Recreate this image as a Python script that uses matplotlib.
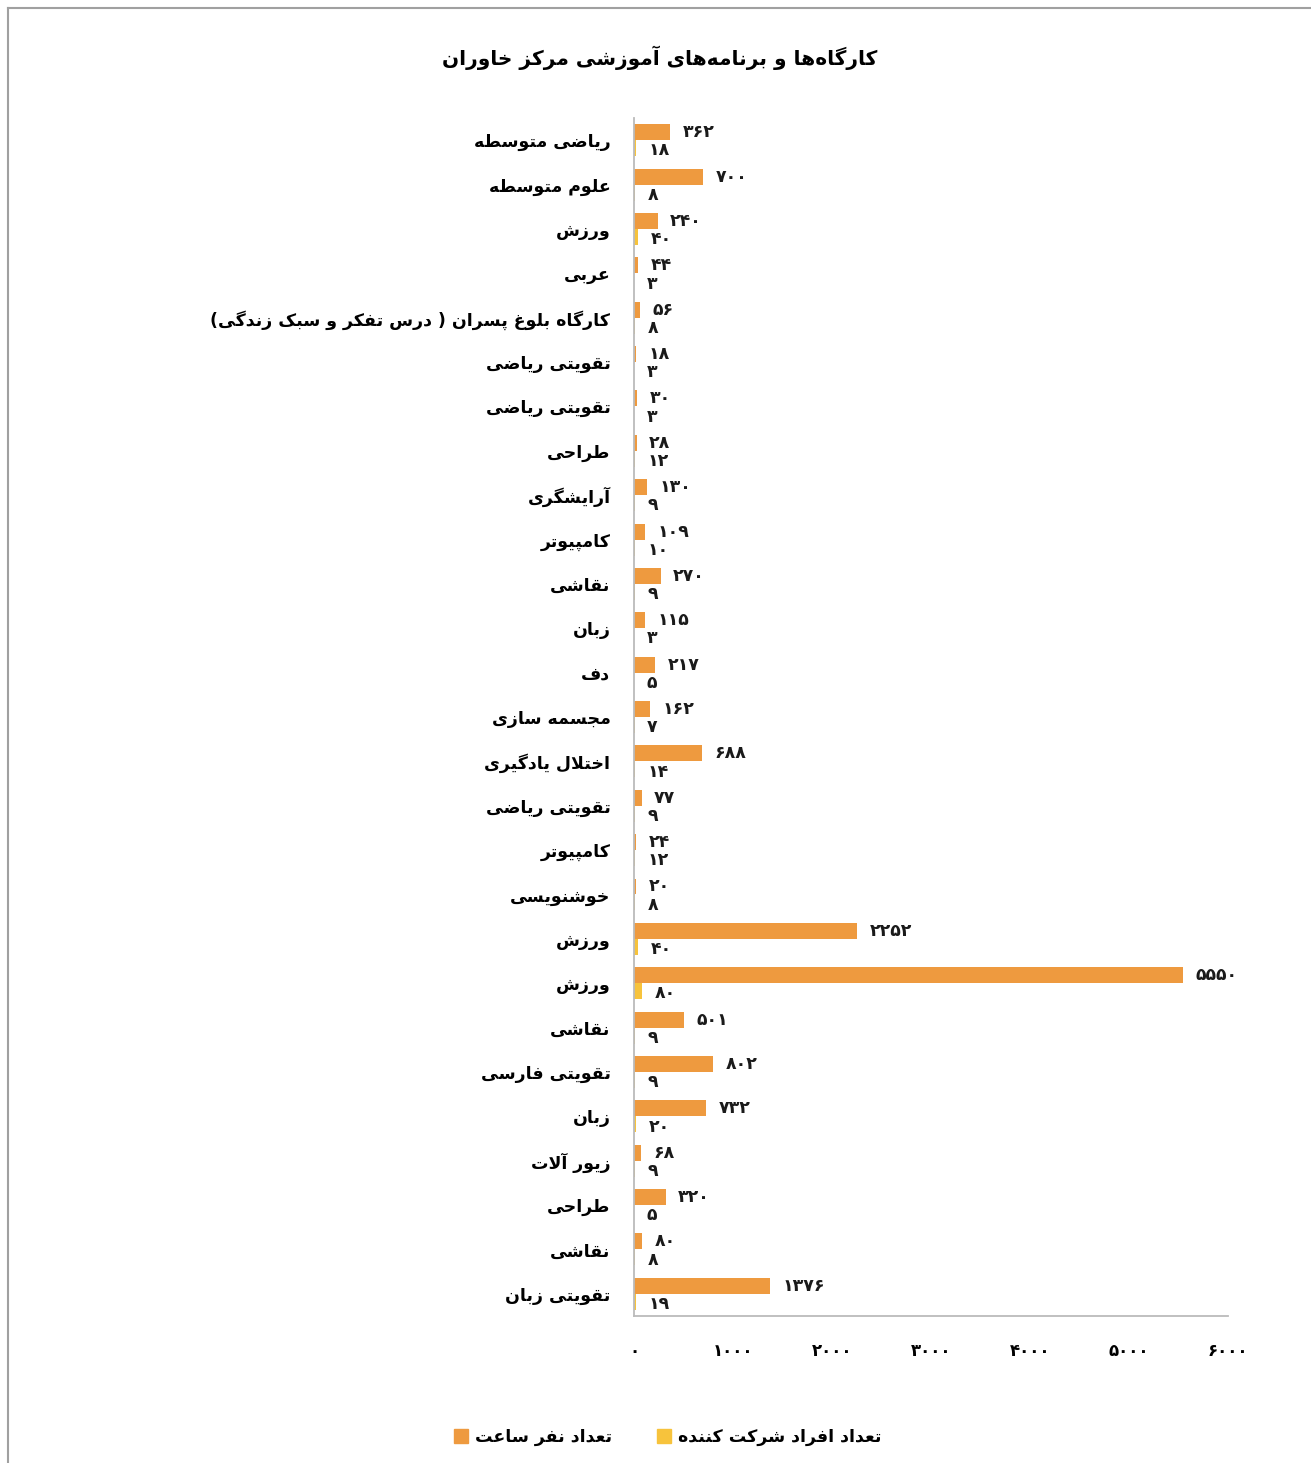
import matplotlib
matplotlib.use("Agg")
import matplotlib.pyplot as plt
import numpy as np
from matplotlib.patches import Patch
from matplotlib.lines import Line2D

# ---------------- data ----------------
categories = [
    "ریاضی متوسطه", "علوم متوسطه", "ورزش", "عربی",
    "کارگاه بلوغ پسران ( درس تفکر و سبک زندگی)",
    "تقویتی ریاضی", "تقویتی ریاضی", "طراحی", "آرایشگری", "کامپیوتر",
    "نقاشی", "زبان", "دف", "مجسمه سازی", "اختلال یادگیری",
    "تقویتی ریاضی", "کامپیوتر", "خوشنویسی", "ورزش", "ورزش",
    "نقاشی", "تقویتی فارسی", "زبان", "زیور آلات", "طراحی",
    "نقاشی", "تقویتی زبان",
]
hours = [362, 700, 240, 44, 56, 18, 30, 28, 130, 109, 270, 115, 217, 162, 688,
         77, 24, 20, 2252, 5550, 501, 802, 732, 68, 320, 80, 1376]
participants = [18, 8, 40, 3, 8, 3, 3, 12, 9, 10, 9, 3, 5, 7, 14,
                9, 12, 8, 40, 80, 9, 9, 20, 9, 5, 8, 19]
x_ticks = [0, 1000, 2000, 3000, 4000, 5000, 6000]
title_text = "کارگاه\u200cها و برنامه\u200cهای آموزشی مرکز خاوران"
series_names = ["تعداد نفر ساعت", "تعداد افراد شرکت کننده"]

ORANGE = "#EE9A3F"
YELLOW = "#F7C33C"

# ---------------- Persian shaping (presentation forms) ----------------
FORMS = {
    "ا": ("\uFE8D", "\uFE8E", None, None),
    "آ": ("\uFE81", "\uFE82", None, None),
    "ب": ("\uFE8F", "\uFE90", "\uFE91", "\uFE92"),
    "پ": ("\uFB56", "\uFB57", "\uFB58", "\uFB59"),
    "ت": ("\uFE95", "\uFE96", "\uFE97", "\uFE98"),
    "ث": ("\uFE99", "\uFE9A", "\uFE9B", "\uFE9C"),
    "ج": ("\uFE9D", "\uFE9E", "\uFE9F", "\uFEA0"),
    "چ": ("\uFB7A", "\uFB7B", "\uFB7C", "\uFB7D"),
    "ح": ("\uFEA1", "\uFEA2", "\uFEA3", "\uFEA4"),
    "خ": ("\uFEA5", "\uFEA6", "\uFEA7", "\uFEA8"),
    "د": ("\uFEA9", "\uFEAA", None, None),
    "ذ": ("\uFEAB", "\uFEAC", None, None),
    "ر": ("\uFEAD", "\uFEAE", None, None),
    "ز": ("\uFEAF", "\uFEB0", None, None),
    "ژ": ("\uFB8A", "\uFB8B", None, None),
    "س": ("\uFEB1", "\uFEB2", "\uFEB3", "\uFEB4"),
    "ش": ("\uFEB5", "\uFEB6", "\uFEB7", "\uFEB8"),
    "ص": ("\uFEB9", "\uFEBA", "\uFEBB", "\uFEBC"),
    "ض": ("\uFEBD", "\uFEBE", "\uFEBF", "\uFEC0"),
    "ط": ("\uFEC1", "\uFEC2", "\uFEC3", "\uFEC4"),
    "ظ": ("\uFEC5", "\uFEC6", "\uFEC7", "\uFEC8"),
    "ع": ("\uFEC9", "\uFECA", "\uFECB", "\uFECC"),
    "غ": ("\uFECD", "\uFECE", "\uFECF", "\uFED0"),
    "ف": ("\uFED1", "\uFED2", "\uFED3", "\uFED4"),
    "ق": ("\uFED5", "\uFED6", "\uFED7", "\uFED8"),
    "ک": ("\uFB8E", "\uFB8F", "\uFB90", "\uFB91"),
    "گ": ("\uFB92", "\uFB93", "\uFB94", "\uFB95"),
    "ل": ("\uFEDD", "\uFEDE", "\uFEDF", "\uFEE0"),
    "م": ("\uFEE1", "\uFEE2", "\uFEE3", "\uFEE4"),
    "ن": ("\uFEE5", "\uFEE6", "\uFEE7", "\uFEE8"),
    "و": ("\uFEED", "\uFEEE", None, None),
    "ه": ("\uFEE9", "\uFEEA", "\uFEEB", "\uFEEC"),
    "ی": ("\uFBFC", "\uFBFD", "\uFBFE", "\uFBFF"),
}
LAMALEF = {"ا": ("\uFEFB", "\uFEFC"), "آ": ("\uFEF5", "\uFEF6")}


def _shape(s):
    chars = list(s)
    n = len(chars)
    res = []
    i = 0
    while i < n:
        c = chars[i]
        if c not in FORMS:
            if c != "\u200c":
                res.append(c)
            i += 1
            continue
        prev = chars[i - 1] if i > 0 else None
        conn_prev = prev in FORMS and FORMS[prev][2] is not None
        if c == "ل" and i + 1 < n and chars[i + 1] in LAMALEF:
            lig = LAMALEF[chars[i + 1]]
            res.append(lig[1] if conn_prev else lig[0])
            i += 2
            continue
        nxt = chars[i + 1] if i + 1 < n else None
        f = FORMS[c]
        conn_next = f[2] is not None and nxt in FORMS
        if conn_prev and conn_next:
            g = f[3]
        elif conn_prev:
            g = f[1]
        elif conn_next:
            g = f[2]
        else:
            g = f[0]
        res.append(g)
        i += 1
    return res


def rtl(s):
    mirror = {"(": ")", ")": "("}
    return "".join(mirror.get(c, c) for c in reversed(_shape(s)))


FA_DIGITS = str.maketrans("0123456789", "۰۱۲۳۴۵۶۷۸۹")


def fa(v):
    return str(v).translate(FA_DIGITS)


# ---------------- figure ----------------
plt.rcParams["font.family"] = ["DejaVu Sans"]
fig = plt.figure(figsize=(13.11, 14.63), dpi=100)
ax = fig.add_axes([0.4836, 0.1005, 0.4531, 0.8188])

y = np.arange(len(categories))
bh = 0.36
ax.barh(y - bh / 2, hours, height=bh, color=ORANGE)
ax.barh(y + bh / 2, participants, height=bh, color=YELLOW)

for yi, hv, pv in zip(y, hours, participants):
    ax.annotate(fa(hv), (hv, yi - bh / 2), xytext=(9, 0), textcoords="offset points",
                ha="left", va="center", fontsize=12.5, fontweight="bold", color="#1a1a1a")
    ax.annotate(fa(pv), (pv, yi + bh / 2 + 0.05), xytext=(9, 0), textcoords="offset points",
                ha="left", va="center", fontsize=12.5, fontweight="bold", color="#1a1a1a")

ax.set_xlim(0, 6000)
ax.set_ylim(len(categories) - 0.5, -0.5)
ax.set_yticks(y)
ax.set_yticklabels([rtl(c) for c in categories], fontsize=12.5, fontweight="bold")
ax.set_xticks(x_ticks)
ax.set_xticklabels([fa(t) for t in x_ticks], fontsize=12, fontweight="bold")
ax.tick_params(axis="y", length=0, pad=17)
ax.tick_params(axis="x", length=0, pad=19)
for s in ("top", "right"):
    ax.spines[s].set_visible(False)
for s in ("left", "bottom"):
    ax.spines[s].set_color("#BBBBBB")
    ax.spines[s].set_linewidth(1.3)

fig.text(0.503, 0.9604, rtl(title_text), ha="center", va="center",
         fontsize=14.5, fontweight="bold")

handles = [Patch(color=ORANGE), Patch(color=YELLOW)]
fig.legend(handles, [rtl(n) for n in series_names], loc="center",
           bbox_to_anchor=(0.509, 0.0178), ncol=2, frameon=False,
           prop={"size": 12.5, "weight": "bold"}, handlelength=0.8, handleheight=0.8,
           handletextpad=0.4, columnspacing=2.6)

# light border of the original image
fig.add_artist(Line2D([8 / 1311, 8 / 1311], [0, 1 - 8 / 1463], transform=fig.transFigure,
                      color="#A0A0A0", lw=1.5))
fig.add_artist(Line2D([8 / 1311, 1], [1 - 8 / 1463, 1 - 8 / 1463], transform=fig.transFigure,
                      color="#A0A0A0", lw=1.5))

fig.savefig("out.png", dpi=100)
